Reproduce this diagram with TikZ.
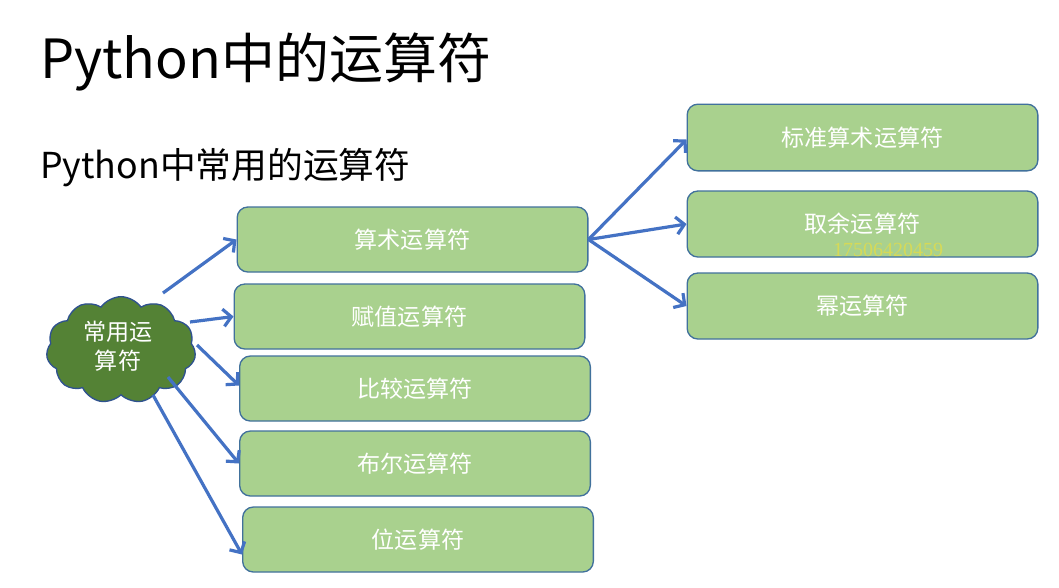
\documentclass[tikz,border=0pt]{standalone}
\usepackage{fontspec}
\setmainfont{Noto Sans CJK SC}
\newfontfamily\wmfont{Liberation Serif}
\usetikzlibrary{shapes.symbols,arrows.meta,calc}
\definecolor{boxfill}{HTML}{A9D18E}
\definecolor{boxline}{HTML}{41719C}
\definecolor{cloudfill}{HTML}{548235}
\definecolor{cloudline}{HTML}{2F528F}
\definecolor{arrowblue}{HTML}{4472C4}
\definecolor{wmyellow}{HTML}{E2DC4A}
\begin{document}
\begin{tikzpicture}[x=0.75pt,y=-0.75pt,
 opbox/.style={draw=boxline, line width=1pt, fill=boxfill, rounded corners=8pt,
   minimum width=263pt, minimum height=48.75pt, text=white,
   font=\fontsize{17.3}{20}\selectfont, inner sep=0pt},
 link/.style={draw=arrowblue, line width=2.4pt, -{Straight Barb[length=6pt,width=13pt]}}]
\useasboundingbox[fill=white] (0,0) rectangle (1059,587);
\node[anchor=west, inner sep=0pt, font=\fontsize{40.5}{50}\selectfont] (title) at (40,62) {Python中的运算符};
\node[anchor=west, inner sep=0pt, font=\fontsize{26.8}{30}\selectfont] (sub) at (40,168) {Python中常用的运算符};

\node[cloud, cloud puffs=11, cloud puff arc=110, draw=cloudline, line width=1pt, fill=cloudfill,
  minimum width=112pt, minimum height=80pt, inner sep=0pt] (cloud) at (121,350) {};
\node[text=white, align=center, font=\fontsize{17.3}{22}\selectfont, inner sep=0pt] (cloudtxt) at ($(cloud.center)+(-3,-4)$) {常用运\\算符};

\node[opbox] (b1) at (412.5,239.5) {算术运算符};
\node[opbox] (b2) at (409.5,316.5) {赋值运算符};
\node[opbox] (b3) at (415,388.5) {比较运算符};
\node[opbox] (b4) at (415,463.5) {布尔运算符};
\node[opbox] (b5) at (418,539.5) {位运算符};

\node[opbox, minimum height=50pt] (r1) at (862.5,137.5) {标准算术运算符};
\node[opbox, minimum height=49.5pt] (r2) at (862.5,224) {取余运算符};
\node[opbox, minimum height=49.5pt] (r3) at (862.5,306) {幂运算符};

\draw[link] ($(cloud.center)+(42,-57)$) -- (b1.west);
\draw[link] ($(cloud.center)+(69,-28)$) -- (b2.west);
\draw[link] ($(cloud.center)+(76,-5)$) -- ($(b3.west)+(0,-3)$);
\draw[link] ($(cloud.center)+(47,27)$) -- (b4.west);
\draw[link] ($(cloud.center)+(32,45)$) -- ($(b5.west)+(0,15)$);

\draw[link] (b1.east) -- ($(r1.west)+(0,2)$);
\draw[link] (b1.east) -- (r2.west);
\draw[link] (b1.east) -- (r3.west);

\node[text=wmyellow, opacity=0.8, font=\wmfont\fontsize{15}{18}\selectfont, inner sep=0pt] (wm) at (888,250) {17506420459};
\end{tikzpicture}
\end{document}
